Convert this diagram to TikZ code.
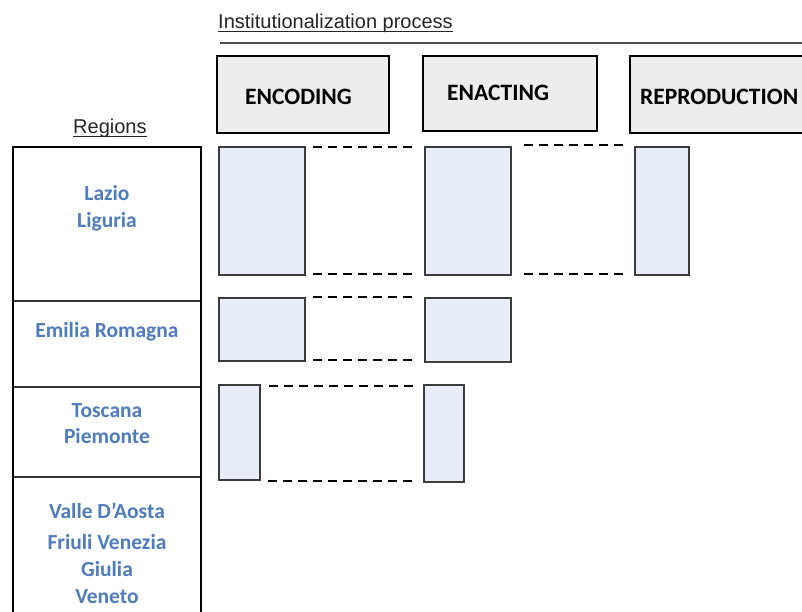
\documentclass[tikz,border=0pt]{standalone}
\usepackage{fontspec}
\setmainfont{Liberation Sans}
\newfontfamily\carl{Carlito}
\definecolor{regblue}{RGB}{79,124,189}
\definecolor{boxfill}{RGB}{233,237,248}
\definecolor{headfill}{RGB}{237,237,237}
\definecolor{boxline}{RGB}{60,60,60}
\newsavebox\ulbox
\newcommand\ulx[1]{\sbox\ulbox{#1}\rlap{\rule[-3.5pt]{\wd\ulbox}{1.3pt}}\usebox\ulbox}
\begin{document}
\begin{tikzpicture}[x=1pt,y=-1pt,
  title/.style={inner sep=0pt,anchor=base west,font=\fontsize{20}{24}\selectfont,text=black!85},
  headbox/.style={draw=black,line width=2.2pt,fill=headfill,inner sep=0pt},
  headtext/.style={inner sep=0pt,anchor=base west,font=\carl\bfseries\fontsize{23.5}{28}\selectfont},
  regtext/.style={inner sep=0pt,anchor=base,text=regblue,font=\carl\bfseries\fontsize{21.5}{25}\selectfont},
  stagebox/.style={draw=boxline,line width=2.2pt,fill=boxfill,inner sep=0pt},
  link/.style={line width=2.7pt,dash pattern=on 9pt off 6pt}]
\useasboundingbox (0,0) rectangle (802,612);
\clip (0,0) rectangle (802,612);
\fill[white] (0,0) rectangle (802,612);

% titles
\node[title] (proc) at (218,29) {\ulx{Institutionalization process}};
\draw[line width=2pt,black!70] (220,43) -- (802,43);
\node[title] (reg) at (73,134) {\ulx{Regions}};

% header boxes
\node[headbox,minimum width=172pt,minimum height=77pt] (hEnc) at (303,94.5) {};
\node[headbox,minimum width=174pt,minimum height=75pt] (hEna) at (510,93.5) {};
\node[headbox,minimum width=185pt,minimum height=77pt] (hRep) at (722.5,94.5) {};
\node[headtext] (tEnc) at (245,104.5) {ENCODING};
\node[headtext] (tEna) at (447,101) {ENACTING};
\node[headtext] (tRep) at (640,104.5) {REPRODUCTION};

% regions table
\draw[line width=1.4pt,black!80] (13,301) -- (201,301) (13,387) -- (201,387) (13,477) -- (201,477);
\draw[line width=2.2pt] (13,625) -- (13,147) -- (201,147) -- (201,625);
\node[regtext] (r1a) at (107,201) {Lazio};
\node[regtext] (r1b) at (107,228) {Liguria};
\node[regtext] (r2) at (107,337) {Emilia Romagna};
\node[regtext] (r3a) at (107,417) {Toscana};
\node[regtext] (r3b) at (107,443) {Piemonte};
\node[regtext] (r4a) at (107,518) {Valle D’Aosta};
\node[regtext] (r4b) at (107,549) {Friuli Venezia};
\node[regtext] (r4c) at (107,576) {Giulia};
\node[regtext] (r4d) at (107,603) {Veneto};

% stage boxes
\node[stagebox,minimum width=86pt,minimum height=128pt] (a1) at (262,211) {};
\node[stagebox,minimum width=86pt,minimum height=128pt] (b1) at (468,211) {};
\node[stagebox,minimum width=54pt,minimum height=128pt] (c1) at (662,211) {};
\node[stagebox,minimum width=86pt,minimum height=63pt] (a2) at (262,329.5) {};
\node[stagebox,minimum width=86pt,minimum height=64pt] (b2) at (468,330) {};
\node[stagebox,minimum width=41pt,minimum height=95pt] (a3) at (239.5,432.5) {};
\node[stagebox,minimum width=40pt,minimum height=97pt] (b3) at (444,433.5) {};

% dashed links
\draw[link] ([xshift=7pt,yshift=-1pt]a1.north east) -- ([xshift=-10pt,yshift=-1pt]b1.north west);
\draw[link] ([xshift=7pt,yshift=2pt]a1.south east) -- ([xshift=-10pt,yshift=2pt]b1.south west);
\draw[link] ([xshift=12pt,yshift=1pt]b1.north east) -- ([xshift=-8pt,yshift=1pt]c1.north west);
\draw[link] ([xshift=12pt,yshift=2pt]b1.south east) -- ([xshift=-8pt,yshift=2pt]c1.south west);
\draw[link] ([xshift=7pt]a2.north east) -- ([xshift=-10pt]b2.north west);
\draw[link] ([xshift=7pt,yshift=2pt]a2.south east) -- ([xshift=-10pt,yshift=3pt]b2.south west);
\draw[link] ([xshift=8pt,yshift=-2pt]a3.north east) -- ([xshift=-9pt,yshift=-2pt]b3.north west);
\draw[link] ([xshift=7pt]a3.south east) -- ([xshift=-9pt,yshift=2pt]b3.south west);
\end{tikzpicture}
\end{document}
